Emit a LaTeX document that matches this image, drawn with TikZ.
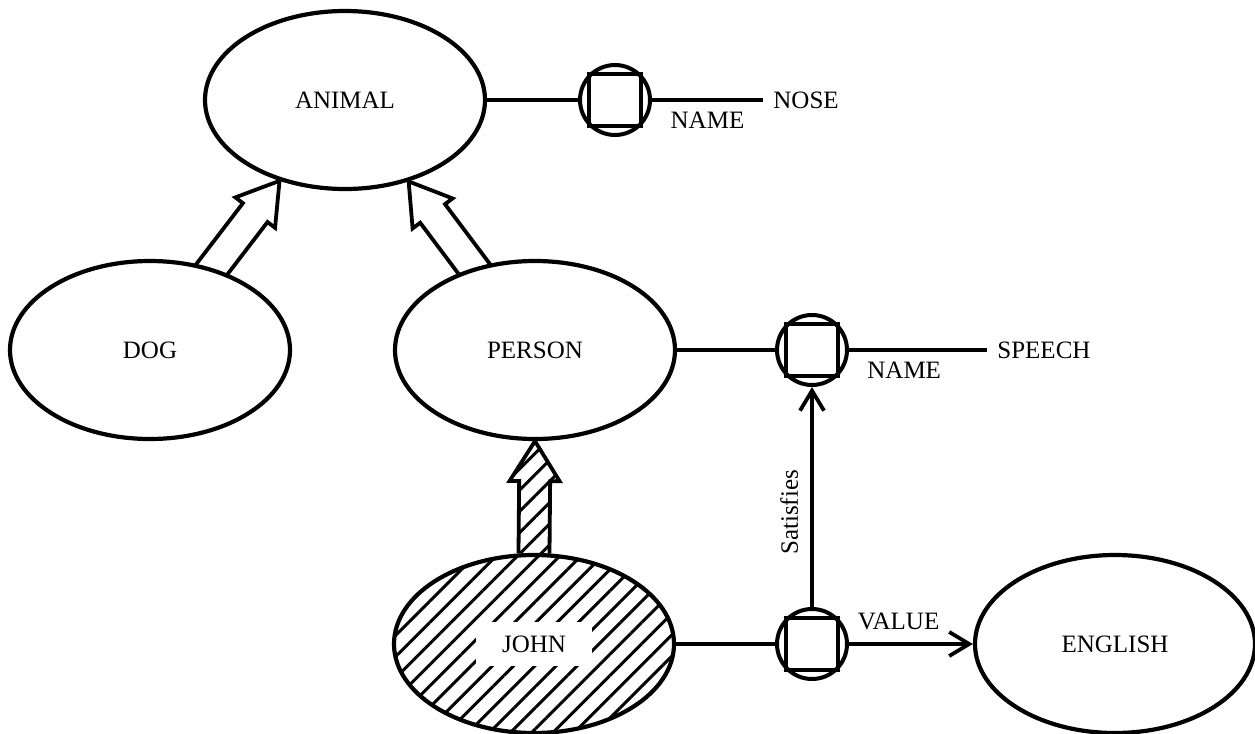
\documentclass[tikz,border=0pt]{standalone}
\usepackage{fontspec}
\setmainfont{Liberation Serif}
\usetikzlibrary{shapes.geometric,calc,arrows.meta,patterns.meta}
\pgfdeclarelayer{bg}
\pgfsetlayers{bg,main}
\tikzset{
    frame/.style={ellipse, draw, line width=2.1pt, fill=white, inner sep=0pt,
        minimum width=140pt, minimum height=89pt,
        font=\fontsize{12.5}{14}\selectfont},
    hatched/.style={pattern={Lines[angle=45, distance=7.5pt, line width=1.5pt]}},
    ring/.style={circle, draw, line width=2pt, fill=white, inner sep=0pt,
        minimum size=35pt},
    link/.style={line width=1.9pt},
    barb/.style={-{Straight Barb[length=10pt, width=12pt]}},
    lbl/.style={font=\fontsize{12.5}{14}\selectfont, inner sep=2pt},
    tail/.style={lbl, anchor=west, inner xsep=5pt}
}
% hollow is-a arrow: [options] {base} {tip}
\newcommand{\isaarrow}[3][]{%
    \coordinate (hb) at ($(#3)!20pt!(#2)$);
    \draw[link, #1] ($(#2)!7.75pt!90:(#3)$) -- ($(hb)!7.75pt!90:(#3)$)
        -- ($(hb)!12.5pt!90:(#3)$) -- (#3) -- ($(hb)!12.5pt!-90:(#3)$)
        -- ($(hb)!7.75pt!-90:(#3)$) -- ($(#2)!7.75pt!-90:(#3)$);
}

\begin{document}
\begin{tikzpicture}[x=0.5pt, y=-0.5pt]
    \useasboundingbox (0,0) rectangle (1255,734);

    \node (animal) at (345,100) [frame] {ANIMAL};
    \node (dog) at (150,350) [frame] {DOG};
    \node (person) at (535,350) [frame] {PERSON};
    \node (john) at (534,644) [frame, hatched]
        {{\setlength{\fboxsep}{7pt}\colorbox{white}{\hspace{6pt}JOHN\hspace{6pt}}}};
    \node (english) at (1115,644) [frame] {ENGLISH};

    \node (ringa) at (615,100) [ring] {};
    \node (ringb) at (812,350) [ring] {};
    \node (ringc) at (812,644) [ring] {};
    \foreach \r in {ringa,ringb,ringc}
        \draw[link] (\r.north east) rectangle (\r.south west);

    \node (nose) at (763,100) [tail] {NOSE};
    \node (speech) at (987,350) [tail] {SPEECH};

    \begin{pgfonlayer}{bg}
        \isaarrow{dog}{animal.231}
        \isaarrow{person}{animal.308}
        \isaarrow[hatched]{john.north}{person.south}
    \end{pgfonlayer}

    \draw[link] (animal) -- (ringa);
    \draw[link] (ringa) -- node[lbl, below=3pt] {NAME} (nose.west);

    \draw[link] (person) -- (ringb);
    \draw[link] (ringb) -- node[lbl, below=3pt, pos=0.4] {NAME} (speech.west);

    \draw[link] (john) -- (ringc);
    \draw[link, barb] (ringc) -- node[lbl, above=4pt, pos=0.4] {VALUE} (english);
    \draw[link, barb] (ringc) -- node[lbl, above=4pt, sloped, pos=0.43] {Satisfies} (ringb);
\end{tikzpicture}
\end{document}
